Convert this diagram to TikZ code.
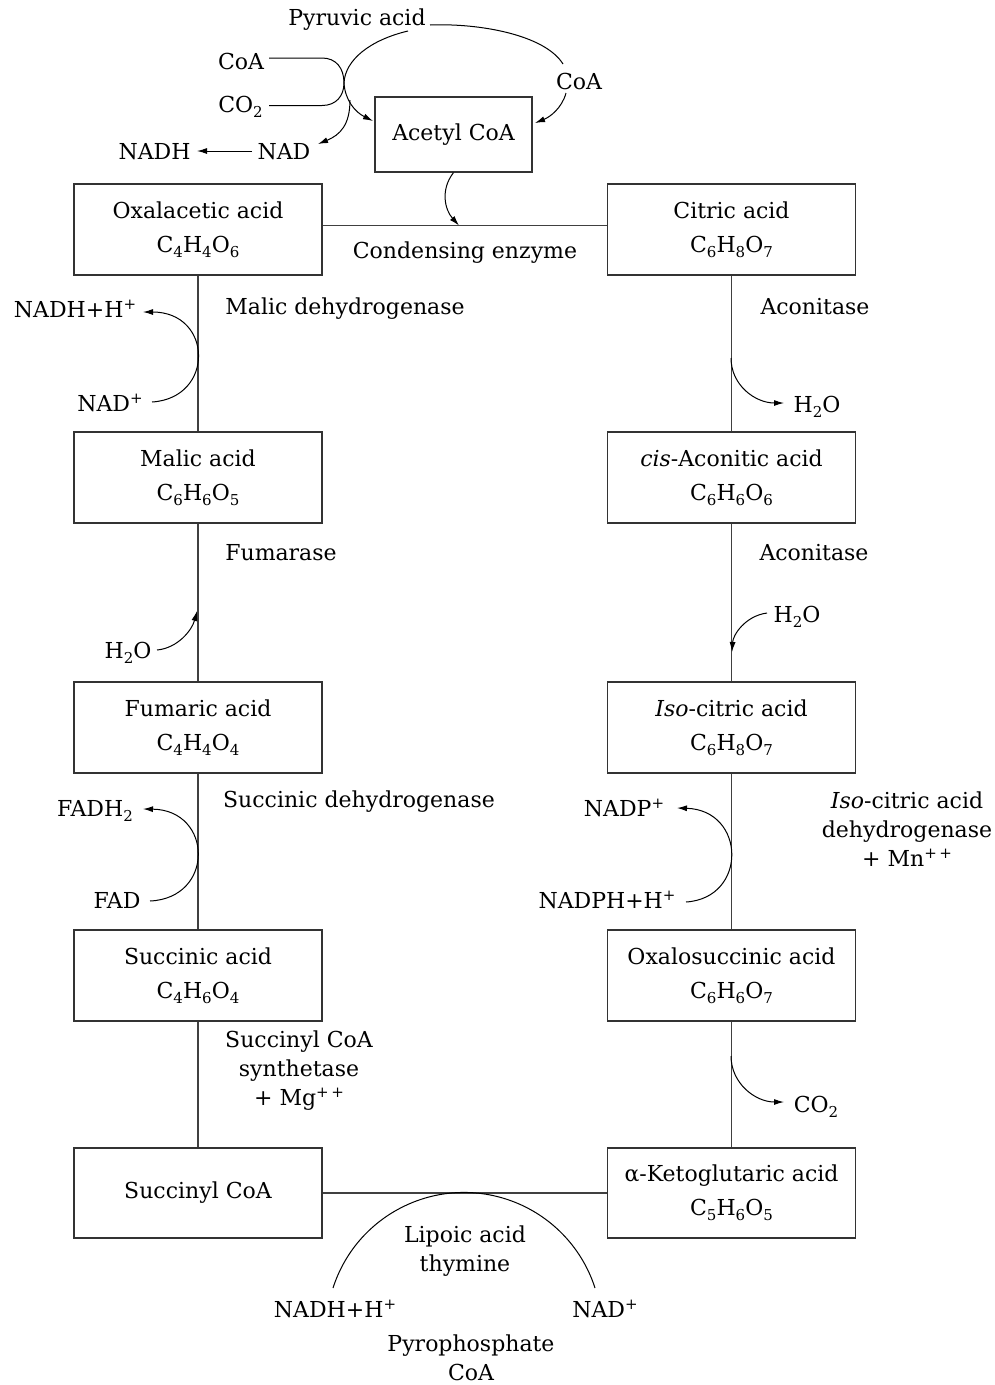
\documentclass[tikz,border=0pt]{standalone}
\usepackage{fontspec}
\setmainfont{DejaVu Serif}
\usetikzlibrary{arrows.meta}
\newcommand\mysub[1]{\raisebox{-5pt}{\fontsize{15}{15}\selectfont #1}}
\newcommand\mysup[1]{\raisebox{8pt}{\fontsize{15}{15}\selectfont #1}}
\begin{document}
\begin{tikzpicture}[x=1pt,y=-1pt,
  font=\fontsize{22}{29}\selectfont,
  box/.style={draw=black!80,line width=1.2pt,minimum width=248pt,minimum height=91pt,align=center,inner sep=0pt},
  lab/.style={inner sep=0pt,text height=16pt,text depth=0pt},
  mlab/.style={inner sep=0pt,align=center},
  link/.style={line width=1.1pt,draw=black!75},
  rx/.style={line width=1pt,-{Latex[length=10pt,width=6pt]}},
  cv/.style={line width=1pt}]
\useasboundingbox (0,0) rectangle (995,1385);
% boxes
\node[box] (acet) at (453.5,134.5) [minimum width=157pt,minimum height=75pt] {Acetyl CoA};
\node[box] (oxa) at (198,229.5) {Oxalacetic acid\\[5pt]C\mysub{4}H\mysub{4}O\mysub{6}};
\node[box] (cit) at (731.5,229.5) {Citric acid\\[5pt]C\mysub{6}H\mysub{8}O\mysub{7}};
\node[box] (mal) at (198,477.5) {Malic acid\\[5pt]C\mysub{6}H\mysub{6}O\mysub{5}};
\node[box] (cis) at (731.5,477.5) {\textit{cis}-Aconitic acid\\[5pt]C\mysub{6}H\mysub{6}O\mysub{6}};
\node[box] (fum) at (198,727.5) {Fumaric acid\\[5pt]C\mysub{4}H\mysub{4}O\mysub{4}};
\node[box] (iso) at (731.5,727.5) {\textit{Iso}-citric acid\\[5pt]C\mysub{6}H\mysub{8}O\mysub{7}};
\node[box] (suc) at (198,975.5) {Succinic acid\\[5pt]C\mysub{4}H\mysub{6}O\mysub{4}};
\node[box] (oxs) at (731.5,975.5) {Oxalosuccinic acid\\[5pt]C\mysub{6}H\mysub{6}O\mysub{7}};
\node[box] (scoa) at (198,1193) [minimum height=90pt] {Succinyl CoA};
\node[box] (akg) at (731.5,1193) [minimum height=90pt] {α-Ketoglutaric acid\\[5pt]C\mysub{5}H\mysub{6}O\mysub{5}};
% main links
\draw[link] ([yshift=4pt]oxa.east) -- ([yshift=4pt]cit.west);
\draw[link] (oxa.south) -- (mal.north);
\draw[link] (mal.south) -- (fum.north);
\draw[link] (fum.south) -- (suc.north);
\draw[link] (suc.south) -- (scoa.north);
\draw[link] (cit.south) -- (cis.north);
\draw[link] (cis.south) -- (iso.north);
\draw[link] (iso.south) -- (oxs.north);
\draw[link] (oxs.south) -- (akg.north);
\draw[link] (scoa.east) -- (akg.west);
% top labels
\node[lab] (pyr) at (357,17.5) {Pyruvic acid};
\node[lab] (coaL) at (241,61) {CoA};
\node[lab] (co2L) at (240.5,104) {CO\mysub{2}};
\node[lab] (nad) at (284,151) {NAD};
\node[lab] (nadh) at (154.5,151) {NADH};
\node[lab] (coaR) at (579,81) {CoA};
% top connectors
\coordinate (pyrR) at (430,25);
\coordinate (arcL) at (408,31);
\coordinate (arcR) at (563,64);
\coordinate (meet) at (344,83);
\coordinate (acetL) at (373,121);
\coordinate (acetR) at (535,123);
\coordinate (coaRb) at (566,93);
\coordinate (coaLe) at (269,58);
\coordinate (co2Le) at (269,105.5);
\coordinate (nadtip) at (318,144);
\coordinate (nadhtip) at (197,151);
\coordinate (nadst) at (252,151);
\draw[cv] (pyrR) .. controls (480,23) and (545,35) .. (arcR);
\draw[rx] (arcL) .. controls (370,40) and (345,60) .. (meet) .. controls (345,100) and (355,112) .. (acetL);
\draw[rx] (coaRb) .. controls (562,108) and (550,117) .. (acetR);
\draw[cv] (coaLe) -- (322,58) .. controls (336,58) and (344,68) .. (meet);
\draw[cv] (co2Le) -- (322,105.5) .. controls (336,105.5) and (344,96) .. (meet);
\draw[rx] (350,100) .. controls (350,125) and (340,135) .. (nadtip);
\draw[rx] (nadst) -- (nadhtip);
\coordinate (cj) at (459,225.5);
\draw[rx] (acet.south) .. controls (440,190) and (445,210) .. (cj);
% enzyme labels
\node[lab] (cond) at (465,250) {Condensing enzyme};
\node[lab] (maldh) at (345,306) {Malic dehydrogenase};
\node[lab] (acon1) at (815,306) {Aconitase};
\node[lab] (fuma) at (281,552) {Fumarase};
\node[lab] (acon2) at (814,552) {Aconitase};
\node[lab] (sucdh) at (359,799) {Succinic dehydrogenase};
\node[mlab] (isodh) at (907,829) {\textit{Iso}-citric acid\\dehydrogenase\\+ Mn\mysup{+\,+}};
\node[mlab] (scs) at (299,1071) {Succinyl CoA\\synthetase\\+ Mg\mysup{+\,+}};
\node[mlab] (lip) at (465,1251) {Lipoic acid\\thymine};
\node[mlab] (pyro) at (471,1358) {Pyrophosphate\\CoA};
% side compounds
\node[lab] (nhh1) at (75,309) {NADH+H\mysup{+}};
\node[lab] (nadp1) at (110,403) {NAD\mysup{+}};
\node[lab] (w1) at (817,404) {H\mysub{2}O};
\node[lab] (w2) at (128,650) {H\mysub{2}O};
\node[lab] (w3) at (797,614) {H\mysub{2}O};
\node[lab] (fadh) at (95,808) {FADH\mysub{2}};
\node[lab] (fad) at (117,900) {FAD};
\node[lab] (nadpp) at (624,808) {NADP\mysup{+}};
\node[lab] (nadph) at (607,900) {NADPH+H\mysup{+}};
\node[lab] (co2R) at (816,1104) {CO\mysub{2}};
\node[lab] (nhh2) at (335,1309) {NADH+H\mysup{+}};
\node[lab] (nadp2) at (605,1309) {NAD\mysup{+}};
% side arrows
\coordinate (a1s) at (152,402); \coordinate (a1e) at (143,312);
\draw[rx] (a1s) .. controls (215,398) and (213,312) .. (a1e);
\coordinate (a2s) at (731,358); \coordinate (a2e) at (784,403);
\draw[rx] (a2s) .. controls (731,385) and (755,403) .. (a2e);
\coordinate (a3s) at (157,650); \coordinate (a3e) at (197,611);
\draw[rx] (a3s) .. controls (178,648) and (192,630) .. (a3e);
\coordinate (a4s) at (767,613); \coordinate (a4e) at (732,652);
\draw[rx] (a4s) .. controls (745,616) and (733,635) .. (a4e);
\coordinate (a5s) at (150,901); \coordinate (a5e) at (143,809);
\draw[rx] (a5s) .. controls (215,898) and (213,810) .. (a5e);
\coordinate (a6s) at (686,902); \coordinate (a6e) at (677,808);
\draw[rx] (a6s) .. controls (748,898) and (746,810) .. (a6e);
\coordinate (a7s) at (731,1056); \coordinate (a7e) at (784,1102);
\draw[rx] (a7s) .. controls (731,1083) and (755,1102) .. (a7e);
% bottom arc
\coordinate (barc) at (333,1288);
\draw[cv] (barc) arc[start angle=162.2,end angle=17.8,radius=137.6pt];
\end{tikzpicture}
\end{document}
